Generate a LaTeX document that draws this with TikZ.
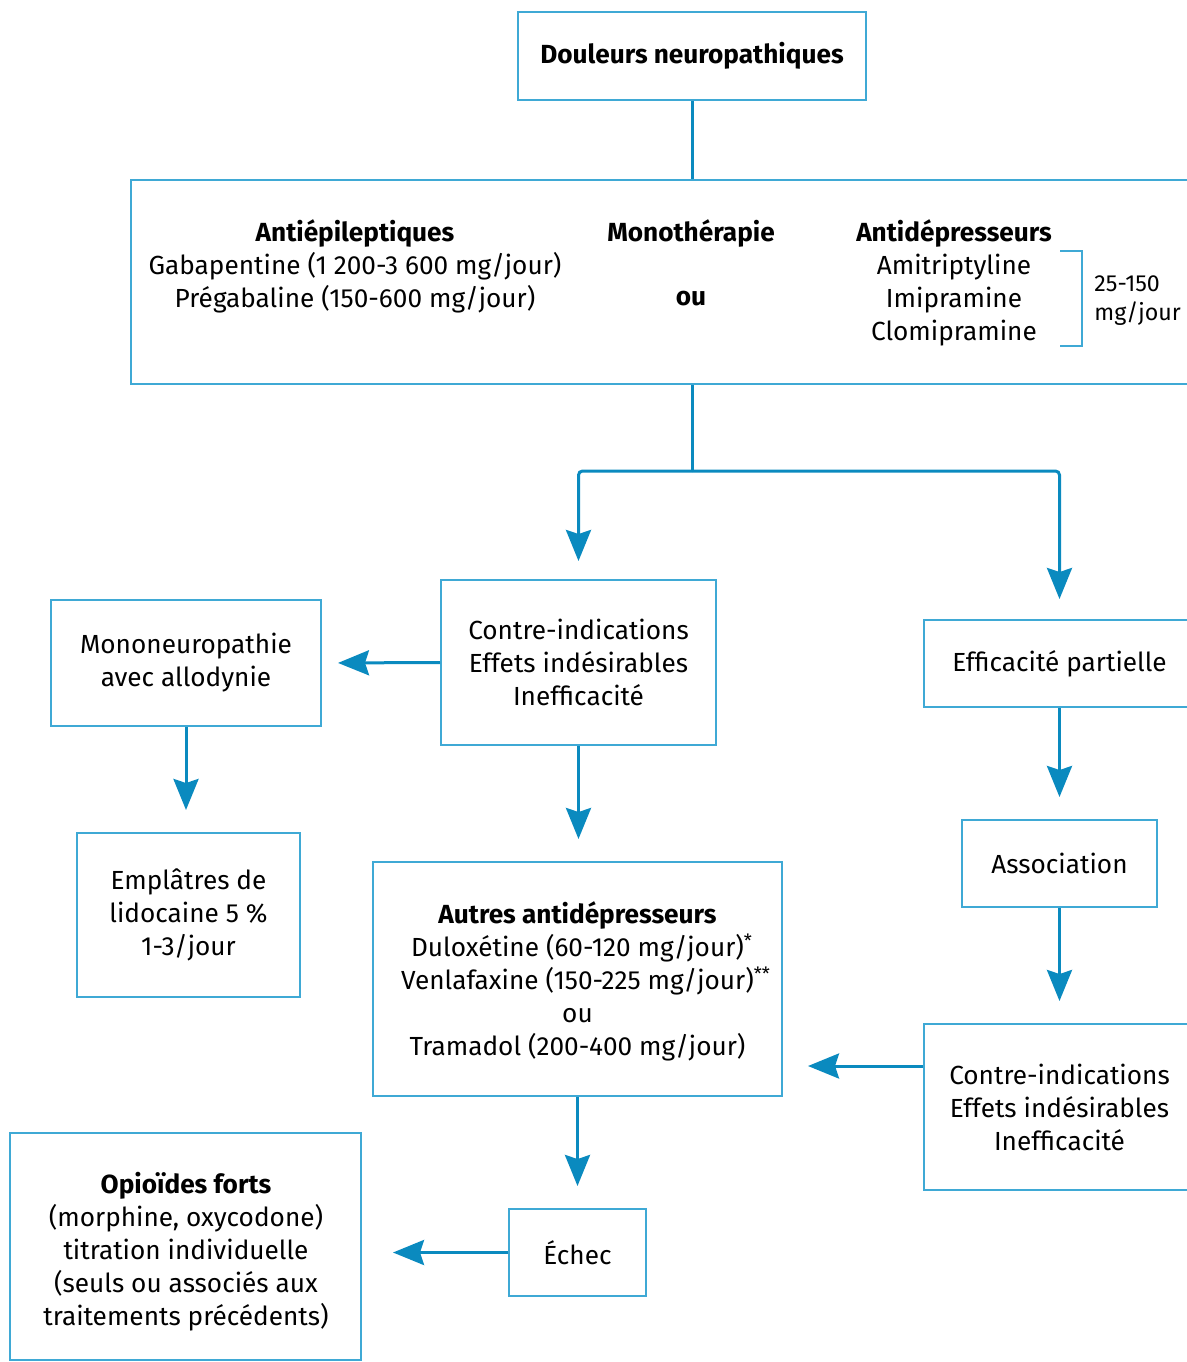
\documentclass[tikz,border=0pt]{standalone}
\usepackage{fontspec}
\setmainfont{Fira Sans}
\usetikzlibrary{arrows.meta}

\definecolor{boxblue}{HTML}{3FA9D5}
\definecolor{linkblue}{HTML}{0A8ABF}

\begin{document}
\begin{tikzpicture}[x=0.5pt,y=-0.5pt,
  box/.style={draw=boxblue, line width=1pt, align=center, inner sep=0pt,
    font=\fontsize{13.1}{16.5}\selectfont},
  txt/.style={align=center, inner sep=0pt, font=\fontsize{13.1}{16.5}\selectfont},
  link/.style={draw=linkblue, line width=1.5pt, rounded corners=2pt},
  arrow/.style={link, -{Stealth[length=15.5pt,width=12.5pt,inset=2pt]}, shorten >=11pt}]

% Picture frame
\clip (0,0) rectangle (1187,1362);

% Top box
\node[box, minimum width=174pt, minimum height=44pt] (douleurs) at (692,56)
  {\textbf{Douleurs neuropathiques}};

% Monotherapy box (right side runs off the page)
\node[box, minimum width=532pt, minimum height=102pt] (mono) at (663,282) {};
\node[txt] (antiepi) at (355,266)
  {\textbf{Antiépileptiques}\\Gabapentine (1 200-3 600 mg/jour)\\Prégabaline (150-600 mg/jour)};
\node[txt] (monotxt) at (691,233) {\textbf{Monothérapie}};
\node[txt] (ou) at (691,299) {\textbf{ou}};
\node[txt] (antidep) at (954,282.5)
  {\textbf{Antidépresseurs}\\Amitriptyline\\Imipramine\\Clomipramine};
\node[txt, align=left, anchor=west, font=\fontsize{11.6}{14.5}\selectfont] (dose) at (1094,300.5)
  {25-150\\mg/jour};
\draw[draw=boxblue, line width=1pt] (1060,251) -- (1082,251) -- (1082,346) -- (1060,346);

% Second level
\node[box, minimum width=137.5pt, minimum height=82.5pt] (contre) at (578.5,662.5)
  {Contre-indications\\Effets indésirables\\Inefficacité};
\node[box, minimum width=135pt, minimum height=63pt] (allodynie) at (186,663)
  {Mononeuropathie\\avec allodynie};
\node[box, minimum width=135.5pt, minimum height=43.5pt] (partielle) at (1059.5,663.5)
  {Efficacité partielle};

% Third level
\node[box, minimum width=111.5pt, minimum height=82pt] (emplatres) at (188.5,915)
  {Emplâtres de\\lidocaine 5 \%\\1-3/jour};
\node[box, minimum width=204.5pt, minimum height=117pt] (autres) at (577.5,979) {};
\node[txt] (autrestxt) at (577.5,981.5)
  {\textbf{Autres antidépresseurs}\\Duloxétine (60-120 mg/jour)\rlap{\textsuperscript{*}}\\
   Venlafaxine (150-225 mg/jour)\rlap{\textsuperscript{**}}\\ou\\Tramadol (200-400 mg/jour)};
\node[box, minimum width=97.5pt, minimum height=43.5pt] (association) at (1059.5,863.5)
  {Association};
\node[box, minimum width=135.5pt, minimum height=83pt] (contrebis) at (1059.5,1107)
  {Contre-indications\\Effets indésirables\\Inefficacité};

% Last level
\node[box, minimum width=68.5pt, minimum height=43.5pt] (echec) at (577.5,1252.5) {Échec};
\node[box, minimum width=175.5pt, minimum height=113.5pt] (opioides) at (185.5,1246.5) {};
\node[txt] (opioidestxt) at (186,1252)
  {\textbf{Opioïdes forts}\\(morphine, oxycodone)\\titration individuelle\\
   (seuls ou associés aux\\traitements précédents)};

% Connectors
\coordinate (split) at (692,471);
\draw[link] (douleurs.south) -- (douleurs.south |- mono.north);
\draw[link] (douleurs.south |- mono.south) -- (split);
\draw[arrow, shorten >=9pt] (split) -| (contre.north);
\draw[arrow, shorten >=10pt] (split) -| (partielle.north);
\draw[arrow, shorten >=8pt] (contre.west) -- (allodynie.east);
\draw[arrow] (allodynie.south) -- (emplatres.north -| allodynie.south);
\draw[arrow] (contre.south) -- (autres.north -| contre.south);
\draw[arrow] (partielle.south) -- (association.north);
\draw[arrow] (association.south) -- (contrebis.north);
\draw[arrow, shorten >=12.5pt] (contrebis.west |- 924,1066) -- (autres.east |- 924,1066);
\draw[arrow] (autres.south) -- (echec.north);
\draw[arrow, shorten >=15.5pt] (echec.west) -- (opioides.east |- echec.west);

\end{tikzpicture}
\end{document}
